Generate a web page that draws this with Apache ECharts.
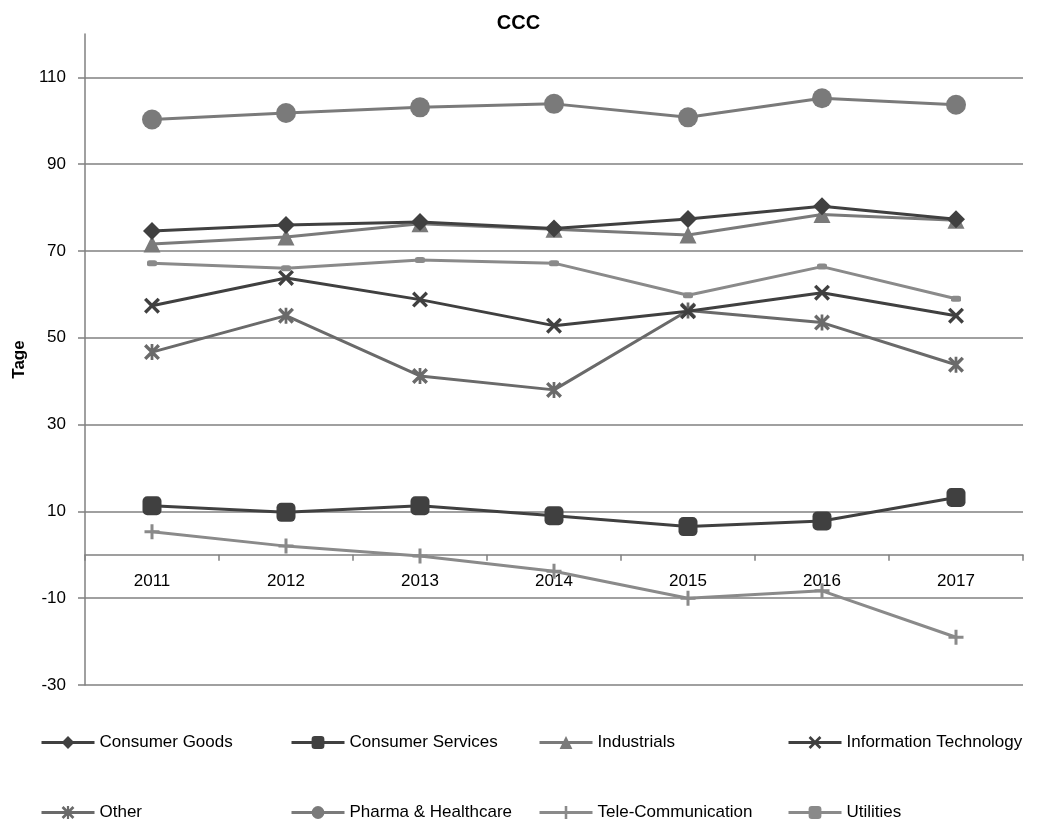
<!DOCTYPE html>
<html>
<head>
<meta charset="utf-8">
<script src="https://cdn.jsdelivr.net/npm/echarts@6/dist/echarts.min.js"></script>
<style>
html,body{margin:0;padding:0;background:#fff;}
#chart{width:1037px;height:825px;}
</style>
</head>
<body>
<div id="chart"></div>
<script>
var years = ['2011','2012','2013','2014','2015','2016','2017'];
var yTicks = [-30,-10,10,30,50,70,90,110];
var seriesNames = ['Consumer Goods','Consumer Services','Industrials','Information Technology','Other','Pharma & Healthcare','Tele-Communication','Utilities'];
var consumerGoods = [74.6, 76.0, 76.7, 75.2, 77.4, 80.3, 77.3];
var consumerServices = [11.3, 9.8, 11.3, 9.0, 6.5, 7.8, 13.2];
var industrials = [71.6, 73.2, 76.3, 75.0, 73.7, 78.4, 77.1];
var informationTechnology = [57.4, 63.8, 58.8, 52.8, 56.1, 60.4, 55.1];
var other = [46.7, 55.1, 41.2, 38.0, 56.3, 53.5, 43.8];
var pharmaHealthcare = [100.3, 101.8, 103.1, 103.9, 100.8, 105.2, 103.7];
var teleCommunication = [5.3, 2.0, -0.3, -3.8, -10.0, -8.3, -19.0];
var utilities = [67.2, 66.0, 67.9, 67.2, 59.8, 66.4, 59.0];

var dataSets = [consumerGoods, consumerServices, industrials, informationTechnology, other, pharmaHealthcare, teleCommunication, utilities];
var colors = ['#404040','#404040','#7a7a7a','#404040','#6a6a6a','#7a7a7a','#8a8a8a','#8a8a8a'];
var xPath = 'path://M0,3 L3,0 L10,7 L17,0 L20,3 L13,10 L20,17 L17,20 L10,13 L3,20 L0,17 L7,10 Z';
var astPath = 'path://M0,3 L3,0 L10,7 L17,0 L20,3 L13,10 L20,17 L17,20 L10,13 L3,20 L0,17 L7,10 Z M8.3,0 L11.7,0 L11.7,20 L8.3,20 Z';
var plusPath = 'path://M8,0 L12,0 L12,8 L20,8 L20,12 L12,12 L12,20 L8,20 L8,12 L0,12 L0,8 L8,8 Z';
var symbols = ['diamond','roundRect','triangle',xPath,astPath,'circle',plusPath,'roundRect'];
var sizes = [18, 19, 17, 16, 16, 20, 15, [10,6]];

var font = "'Liberation Sans', Arial, sans-serif";
var fs = 17;
var titleFs = 20;

var series = seriesNames.map(function(n,i){
  return {
    name: n,
    type: 'line',
    data: dataSets[i],
    symbol: symbols[i],
    symbolSize: sizes[i],
    showAllSymbol: true,
    lineStyle: {color: colors[i], width: 3},
    itemStyle: {color: colors[i]},
    z: 10 - i,
    animation: false
  };
});

var legendLefts = [40, 290, 538, 787];
var legendTops = [734, 804];
var legends = seriesNames.map(function(n,i){
  return {
    data: [n],
    left: legendLefts[i % 4],
    top: legendTops[Math.floor(i / 4)],
    itemWidth: 53,
    itemHeight: 16,
    itemGap: 0,
    padding: 0,
    lineStyle: {width: 3},
    textStyle: {fontSize: fs, color: '#000', fontFamily: font},
    selectedMode: false
  };
});

var splitColors = yTicks.map(function(){return '#808080';}).concat(['rgba(0,0,0,0)']);

var chart = echarts.init(document.getElementById('chart'), null, {renderer: 'canvas'});
chart.setOption({
  animation: false,
  backgroundColor: '#fff',
  title: {
    text: 'CCC', left: 'center', top: 8,
    textStyle: {fontSize: titleFs, fontWeight: 'bold', color: '#000', fontFamily: font}
  },
  legend: legends,
  grid: {left: 85, right: 14, top: 34, bottom: 140, containLabel: false},
  xAxis: {
    type: 'category',
    data: years,
    boundaryGap: true,
    axisLine: {onZero: true, lineStyle: {color: '#808080', width: 1.5}},
    axisTick: {show: true, length: 6, lineStyle: {color: '#808080', width: 1.5}},
    axisLabel: {fontSize: fs, color: '#000', fontFamily: font, margin: 581 - fs / 2 - 685}
  },
  yAxis: {
    type: 'value',
    min: -30, max: 120, interval: 20,
    name: 'Tage',
    nameLocation: 'middle',
    nameGap: 57,
    nameTextStyle: {fontSize: fs, fontWeight: 'bold', color: '#000', fontFamily: font},
    axisLine: {show: true, lineStyle: {color: '#808080', width: 1.5}},
    axisTick: {show: true, length: 7, customValues: yTicks, lineStyle: {color: '#808080', width: 1.5}},
    axisLabel: {fontSize: fs, color: '#000', fontFamily: font, margin: 19, customValues: yTicks},
    splitLine: {show: true, lineStyle: {color: splitColors, width: 1.5}}
  },
  series: series
});
</script>
</body>
</html>
